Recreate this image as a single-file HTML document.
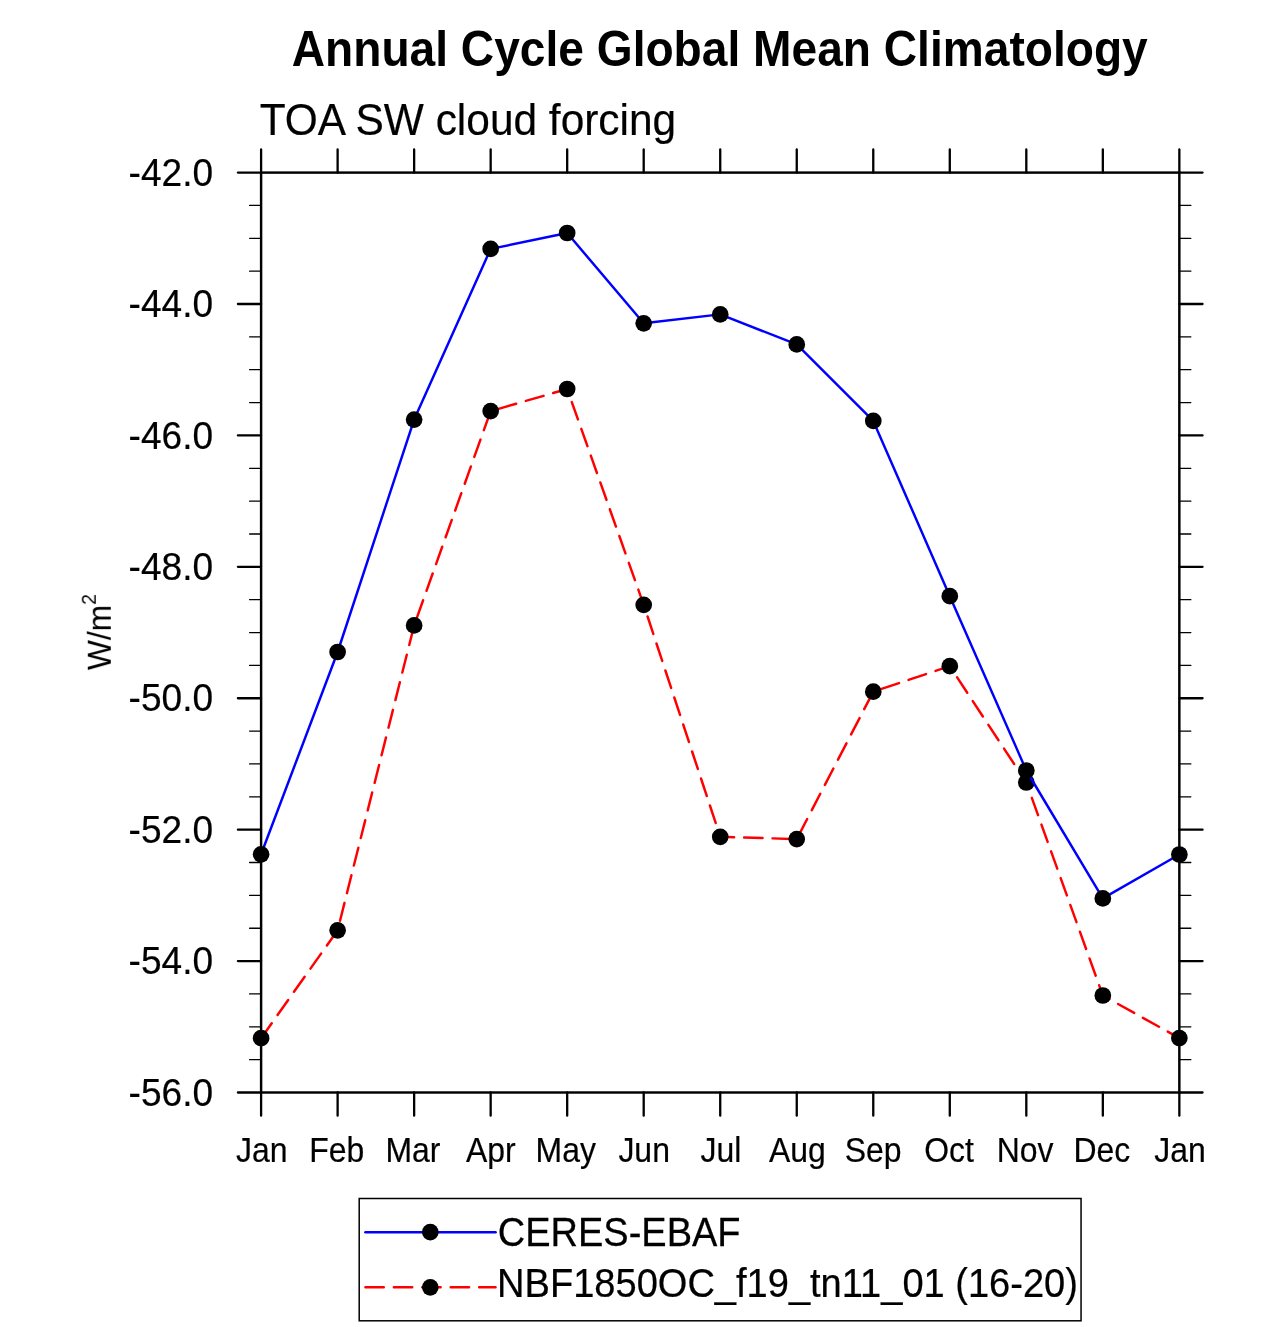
<!DOCTYPE html>
<html lang="en">
<head>
<meta charset="utf-8">
<title>Annual Cycle Global Mean Climatology</title>
<style>
html,body{margin:0;padding:0;background:#fff;}
body{width:1285px;height:1327px;overflow:hidden;}
svg{display:block;}
text{font-family:'Liberation Sans', Arial, Helvetica, sans-serif;fill:#000;}
</style>
</head>
<body>
<svg width="1285" height="1327" viewBox="0 0 1285 1327">
<defs><filter id="gs" x="0" y="0" width="1285" height="1327" filterUnits="userSpaceOnUse" color-interpolation-filters="sRGB"><feColorMatrix type="saturate" values="0"/></filter></defs>
<rect x="0" y="0" width="1285" height="1327" fill="#ffffff"/>
<g stroke="#000" fill="none" stroke-linecap="round">
<rect x="261.1" y="172.6" width="918.25" height="919.9" stroke-width="2.45" stroke-linejoin="miter"/>
<path stroke-width="2.3" d="M261.1 172.6 V149.4 M261.1 1092.5 V1115.7 M337.62 172.6 V149.4 M337.62 1092.5 V1115.7 M414.14 172.6 V149.4 M414.14 1092.5 V1115.7 M490.66 172.6 V149.4 M490.66 1092.5 V1115.7 M567.18 172.6 V149.4 M567.18 1092.5 V1115.7 M643.7 172.6 V149.4 M643.7 1092.5 V1115.7 M720.23 172.6 V149.4 M720.23 1092.5 V1115.7 M796.75 172.6 V149.4 M796.75 1092.5 V1115.7 M873.27 172.6 V149.4 M873.27 1092.5 V1115.7 M949.79 172.6 V149.4 M949.79 1092.5 V1115.7 M1026.31 172.6 V149.4 M1026.31 1092.5 V1115.7 M1102.83 172.6 V149.4 M1102.83 1092.5 V1115.7 M1179.35 172.6 V149.4 M1179.35 1092.5 V1115.7 M261.1 172.6 H237.9 M1179.35 172.6 H1202.55 M261.1 304.01 H237.9 M1179.35 304.01 H1202.55 M261.1 435.43 H237.9 M1179.35 435.43 H1202.55 M261.1 566.84 H237.9 M1179.35 566.84 H1202.55 M261.1 698.26 H237.9 M1179.35 698.26 H1202.55 M261.1 829.67 H237.9 M1179.35 829.67 H1202.55 M261.1 961.09 H237.9 M1179.35 961.09 H1202.55 M261.1 1092.5 H237.9 M1179.35 1092.5 H1202.55"/>
<path stroke-width="1.3" d="M261.1 205.45 H249.6 M1179.35 205.45 H1190.85 M261.1 238.31 H249.6 M1179.35 238.31 H1190.85 M261.1 271.16 H249.6 M1179.35 271.16 H1190.85 M261.1 336.87 H249.6 M1179.35 336.87 H1190.85 M261.1 369.72 H249.6 M1179.35 369.72 H1190.85 M261.1 402.57 H249.6 M1179.35 402.57 H1190.85 M261.1 468.28 H249.6 M1179.35 468.28 H1190.85 M261.1 501.14 H249.6 M1179.35 501.14 H1190.85 M261.1 533.99 H249.6 M1179.35 533.99 H1190.85 M261.1 599.7 H249.6 M1179.35 599.7 H1190.85 M261.1 632.55 H249.6 M1179.35 632.55 H1190.85 M261.1 665.4 H249.6 M1179.35 665.4 H1190.85 M261.1 731.11 H249.6 M1179.35 731.11 H1190.85 M261.1 763.96 H249.6 M1179.35 763.96 H1190.85 M261.1 796.82 H249.6 M1179.35 796.82 H1190.85 M261.1 862.52 H249.6 M1179.35 862.52 H1190.85 M261.1 895.38 H249.6 M1179.35 895.38 H1190.85 M261.1 928.23 H249.6 M1179.35 928.23 H1190.85 M261.1 993.94 H249.6 M1179.35 993.94 H1190.85 M261.1 1026.79 H249.6 M1179.35 1026.79 H1190.85 M261.1 1059.65 H249.6 M1179.35 1059.65 H1190.85"/>
</g>
<polyline points="261.1,1038.2 337.62,930.3 414.14,625.4 490.66,411.1 567.18,389 643.7,604.8 720.23,836.8 796.75,839.1 873.27,691.7 949.79,666.2 1026.31,782.5 1102.83,995.5 1179.35,1038.1" fill="none" stroke="#ff0000" stroke-width="2.45" stroke-linejoin="round" stroke-linecap="round" stroke-dasharray="18.4 10.032"/>
<g fill="#000">
<circle cx="261.1" cy="1038.2" r="8.35"/>
<circle cx="337.62" cy="930.3" r="8.35"/>
<circle cx="414.14" cy="625.4" r="8.35"/>
<circle cx="490.66" cy="411.1" r="8.35"/>
<circle cx="567.18" cy="389" r="8.35"/>
<circle cx="643.7" cy="604.8" r="8.35"/>
<circle cx="720.23" cy="836.8" r="8.35"/>
<circle cx="796.75" cy="839.1" r="8.35"/>
<circle cx="873.27" cy="691.7" r="8.35"/>
<circle cx="949.79" cy="666.2" r="8.35"/>
<circle cx="1026.31" cy="782.5" r="8.35"/>
<circle cx="1102.83" cy="995.5" r="8.35"/>
<circle cx="1179.35" cy="1038.1" r="8.35"/>
</g>
<polyline points="261.1,854.3 337.62,652 414.14,419.6 490.66,248.9 567.18,233 643.7,323.3 720.23,314.4 796.75,344.4 873.27,420.9 949.79,596.2 1026.31,770.5 1102.83,898.4 1179.35,854.5" fill="none" stroke="#0000ff" stroke-width="2.45" stroke-linejoin="round" stroke-linecap="round"/>
<g fill="#000">
<circle cx="261.1" cy="854.3" r="8.35"/>
<circle cx="337.62" cy="652" r="8.35"/>
<circle cx="414.14" cy="419.6" r="8.35"/>
<circle cx="490.66" cy="248.9" r="8.35"/>
<circle cx="567.18" cy="233" r="8.35"/>
<circle cx="643.7" cy="323.3" r="8.35"/>
<circle cx="720.23" cy="314.4" r="8.35"/>
<circle cx="796.75" cy="344.4" r="8.35"/>
<circle cx="873.27" cy="420.9" r="8.35"/>
<circle cx="949.79" cy="596.2" r="8.35"/>
<circle cx="1026.31" cy="770.5" r="8.35"/>
<circle cx="1102.83" cy="898.4" r="8.35"/>
<circle cx="1179.35" cy="854.5" r="8.35"/>
</g>
<rect x="359.2" y="1198.5" width="721.85" height="122.3" fill="#fff" stroke="#000" stroke-width="1.5"/>
<line x1="365.4" y1="1232.2" x2="495.6" y2="1232.2" stroke="#0000ff" stroke-width="2.45" stroke-linecap="round"/>
<circle cx="430.3" cy="1232.2" r="8.35" fill="#000"/>
<line x1="365.4" y1="1287.3" x2="495.6" y2="1287.3" stroke="#ff0000" stroke-width="2.45" stroke-linecap="round" stroke-dasharray="18.4 10.032"/>
<circle cx="430.3" cy="1287.3" r="8.35" fill="#000"/>
<g id="labels" filter="url(#gs)" style="will-change:opacity">
<text transform="translate(719.75 65.6) scale(0.9227 1)" font-size="50" text-anchor="middle" font-weight="bold" id="t_title">Annual Cycle Global Mean Climatology</text>
<text transform="translate(259.67 135.15) scale(0.943 1)" font-size="45" text-anchor="start" id="t_sub" stroke="#000" stroke-width="0.2">TOA SW cloud forcing</text>
<g id="t_ylab" stroke="#000" stroke-width="0.2">
<text transform="translate(213.1 185.8) scale(0.9656 1)" font-size="38.4" text-anchor="end">-42.0</text>
<text transform="translate(213.1 317.21) scale(0.9656 1)" font-size="38.4" text-anchor="end">-44.0</text>
<text transform="translate(213.1 448.63) scale(0.9656 1)" font-size="38.4" text-anchor="end">-46.0</text>
<text transform="translate(213.1 580.04) scale(0.9656 1)" font-size="38.4" text-anchor="end">-48.0</text>
<text transform="translate(213.1 711.46) scale(0.9656 1)" font-size="38.4" text-anchor="end">-50.0</text>
<text transform="translate(213.1 842.87) scale(0.9656 1)" font-size="38.4" text-anchor="end">-52.0</text>
<text transform="translate(213.1 974.29) scale(0.9656 1)" font-size="38.4" text-anchor="end">-54.0</text>
<text transform="translate(213.1 1105.7) scale(0.9656 1)" font-size="38.4" text-anchor="end">-56.0</text>
</g>
<g id="t_xlab" stroke="#000" stroke-width="0.2">
<text transform="translate(261.8 1161.6) scale(0.9264 1)" font-size="34.5" text-anchor="middle">Jan</text>
<text transform="translate(336.72 1161.6) scale(0.9264 1)" font-size="34.5" text-anchor="middle">Feb</text>
<text transform="translate(412.89 1161.6) scale(0.9264 1)" font-size="34.5" text-anchor="middle">Mar</text>
<text transform="translate(490.76 1161.6) scale(0.9264 1)" font-size="34.5" text-anchor="middle">Apr</text>
<text transform="translate(565.78 1161.6) scale(0.9264 1)" font-size="34.5" text-anchor="middle">May</text>
<text transform="translate(644.15 1161.6) scale(0.9264 1)" font-size="34.5" text-anchor="middle">Jun</text>
<text transform="translate(720.83 1161.6) scale(0.9264 1)" font-size="34.5" text-anchor="middle">Jul</text>
<text transform="translate(797.45 1161.6) scale(0.9264 1)" font-size="34.5" text-anchor="middle">Aug</text>
<text transform="translate(873.12 1161.6) scale(0.9264 1)" font-size="34.5" text-anchor="middle">Sep</text>
<text transform="translate(949.04 1161.6) scale(0.9264 1)" font-size="34.5" text-anchor="middle">Oct</text>
<text transform="translate(1025.06 1161.6) scale(0.9264 1)" font-size="34.5" text-anchor="middle">Nov</text>
<text transform="translate(1101.83 1161.6) scale(0.9264 1)" font-size="34.5" text-anchor="middle">Dec</text>
<text transform="translate(1180.05 1161.6) scale(0.9264 1)" font-size="34.5" text-anchor="middle">Jan</text>
</g>
<text transform="translate(110.8 670.1) rotate(-90) scale(0.933 1)" font-size="34.1" text-anchor="start" id="t_yax">W/m<tspan font-size="20.8" dy="-15">2</tspan></text>
<text transform="translate(497.8 1246) scale(0.9314 1)" font-size="40.8" text-anchor="start" id="t_leg1" stroke="#000" stroke-width="0.25">CERES-EBAF</text>
<text transform="translate(497.1 1297.4) scale(0.9325 1)" font-size="40.8" text-anchor="start" id="t_leg2" stroke="#000" stroke-width="0.25">NBF1850OC_f19_tn11_01 (16-20)</text>
</g>
</svg>
</body>
</html>
